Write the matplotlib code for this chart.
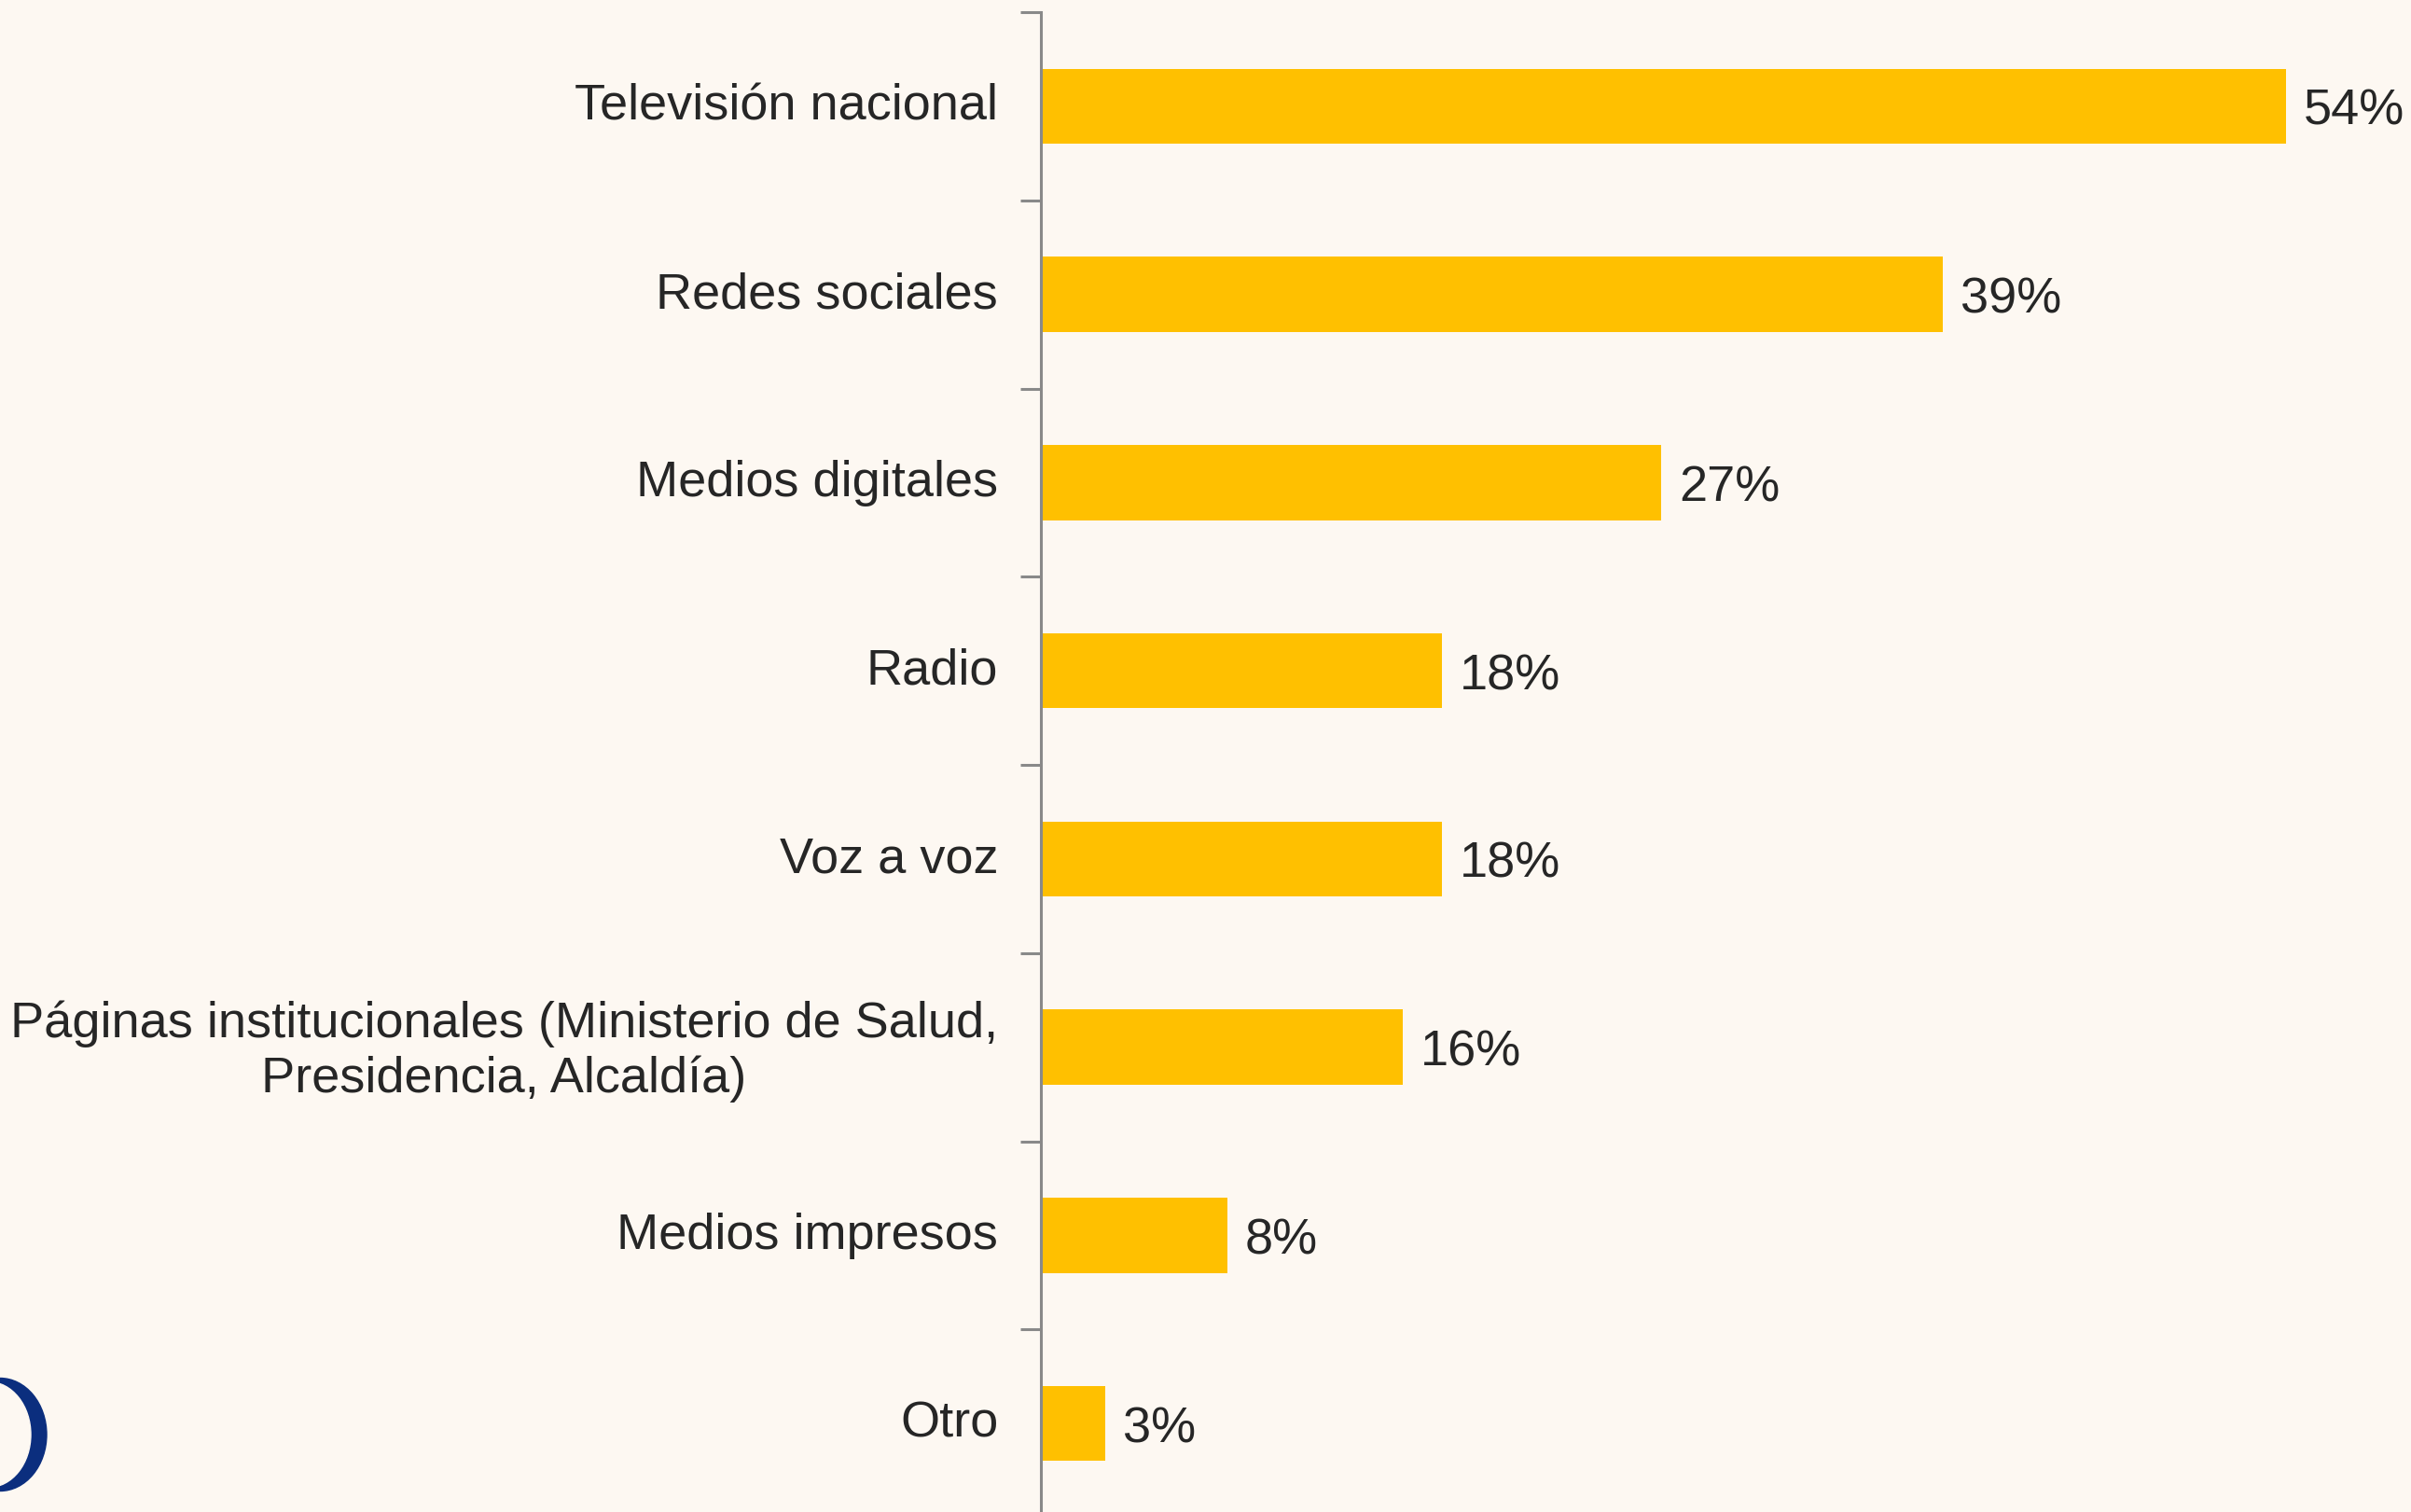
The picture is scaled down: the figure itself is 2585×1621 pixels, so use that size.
import matplotlib.pyplot as plt
from matplotlib.patches import Ellipse
from matplotlib.transforms import ScaledTranslation

categories = [
    'Televisión nacional',
    'Redes sociales',
    'Medios digitales',
    'Radio',
    'Voz a voz',
    'Páginas institucionales (Ministerio de Salud,\nPresidencia, Alcaldía)',
    'Medios impresos',
    'Otro',
]
# bar lengths (labels are rounded)
values = [54.0, 39.1, 26.9, 17.4, 17.4, 15.7, 8.1, 2.8]
value_labels = ['54%', '39%', '27%', '18%', '18%', '16%', '8%', '3%']

bg = '#FDF8F2'
bar_color = '#FFC000'
text_color = '#262626'
axis_gray = '#898989'

plt.rcParams['font.family'] = ['Liberation Sans', 'DejaVu Sans']

fig = plt.figure(figsize=(25.85, 16.21), dpi=100, facecolor=bg)
# axes spans from the axis line to the right edge, bottom runs a bit past the figure
ax = fig.add_axes([1116 / 2585, -6 / 1621, 1469 / 2585, 1614 / 1621])
ax.set_facecolor(bg)

pos = list(range(len(categories)))
ax.barh(pos, values, height=0.4, color=bar_color, zorder=2)
ax.set_ylim(len(categories) - 0.5, -0.5)
ax.set_xlim(0, 59.4)

for p, v, lab in zip(pos, values, value_labels):
    ax.text(v + 0.75, p + 0.03, lab, va='center', ha='left', fontsize=39, color=text_color)

# ticks sit between categories
ax.set_yticks([p - 0.5 for p in pos] + [len(pos) - 0.5])
ax.set_yticklabels([])
ax.set_yticks(pos, minor=True)
ax.set_yticklabels(categories, minor=True, fontsize=39, color=text_color)
ax.tick_params(axis='y', which='major', length=16, width=2.2, color=axis_gray)
ax.tick_params(axis='y', which='minor', length=0, pad=33)
shift = ScaledTranslation(0, 3.5 / 72, fig.dpi_scale_trans)
for t in ax.get_yticklabels(minor=True):
    t.set_multialignment('center')
    t.set_transform(t.get_transform() + shift)

ax.set_xticks([])
for s in ['top', 'right', 'bottom']:
    ax.spines[s].set_visible(False)
ax.spines['left'].set_color(axis_gray)
ax.spines['left'].set_linewidth(2.2)

# partial logo in lower left corner
fig.patches.append(Ellipse((0 / 2585, 1 - 1538 / 1621), 100 / 2585, 121 / 1621,
                           transform=fig.transFigure, color='#0B2E7E', zorder=1))
fig.patches.append(Ellipse((-12 / 2585, 1 - 1538 / 1621), 90 / 2585, 113 / 1621,
                           transform=fig.transFigure, color=bg, zorder=2))

fig.savefig('out.png', dpi=100, facecolor=bg)
